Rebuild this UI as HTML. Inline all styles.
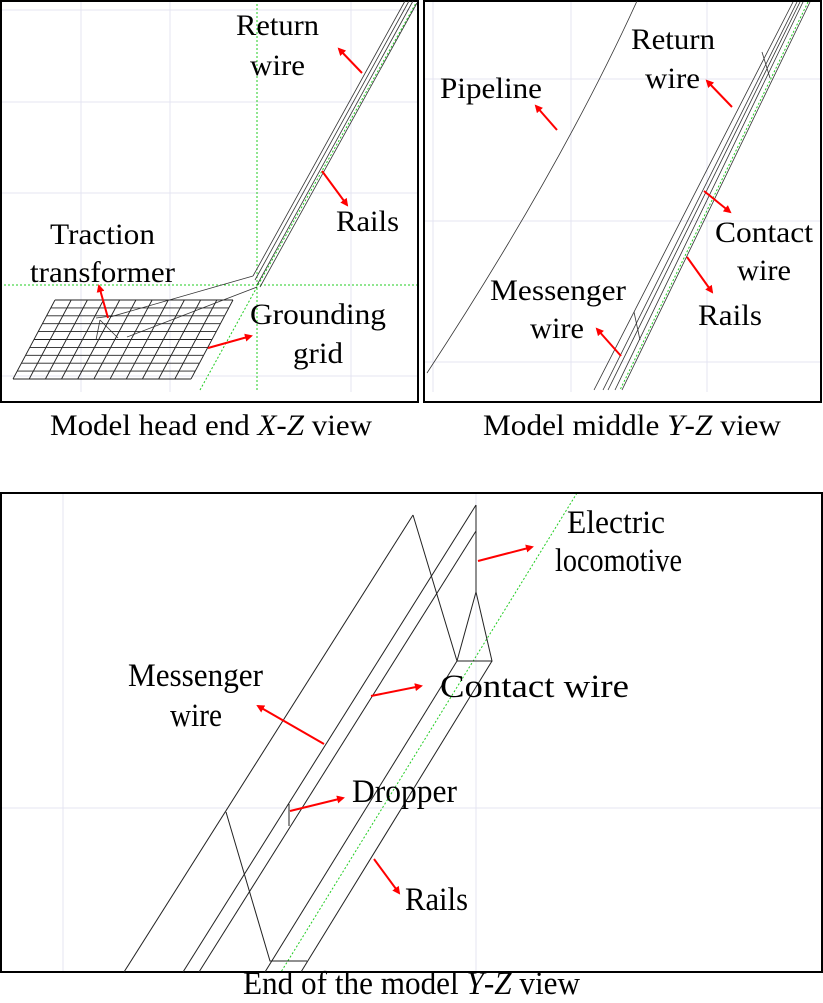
<!DOCTYPE html>
<html><head><meta charset="utf-8"><style>
html,body{margin:0;padding:0;background:#fff;}
svg{display:block;}
text{font-family:"Liberation Serif",serif;font-size:30px;fill:#000;}
text.b{font-size:33px;}
</style></head><body>
<svg width="823" height="1003" viewBox="0 0 823 1003" xmlns="http://www.w3.org/2000/svg">
<defs>
<marker id="ah" markerWidth="8" markerHeight="8" refX="6" refY="4" orient="auto" markerUnits="userSpaceOnUse">
<path d="M0,0 L8,4 L0,8 Z" fill="#f00"/>
</marker>
</defs>
<g stroke="#e4e4f2" stroke-width="1" fill="none">
<line x1="81" y1="0" x2="81" y2="392"/><line x1="170" y1="0" x2="170" y2="392"/><line x1="351" y1="0" x2="351" y2="392"/>
<line x1="0" y1="10" x2="418" y2="10"/><line x1="0" y1="102" x2="418" y2="102"/><line x1="0" y1="193" x2="418" y2="193"/><line x1="0" y1="376" x2="418" y2="376"/>
<line x1="433" y1="0" x2="433" y2="392"/><line x1="571" y1="0" x2="571" y2="392"/><line x1="707" y1="0" x2="707" y2="392"/>
<line x1="424" y1="79" x2="821" y2="79"/><line x1="424" y1="221" x2="821" y2="221"/><line x1="424" y1="362" x2="821" y2="362"/>
<line x1="63" y1="493" x2="63" y2="972"/><line x1="476" y1="493" x2="476" y2="972"/><line x1="0" y1="808" x2="822" y2="808"/>
</g>
<g stroke="#2c2" stroke-width="1" stroke-dasharray="2,2" fill="none">
<line x1="257" y1="0" x2="257" y2="392"/><line x1="0" y1="285" x2="418" y2="285"/>
<polyline points="200,390 257,287 416,3"/>
<line x1="808" y1="2" x2="620" y2="390"/>
<line x1="577" y1="493" x2="281" y2="972"/>
</g>
<g stroke="#000" stroke-width="2" fill="none">
<rect x="1" y="1" width="417" height="401"/>
<rect x="424" y="1" width="397" height="401"/>
<rect x="1" y="493" width="821" height="479"/>
</g>
<g stroke="#333" stroke-width="0.8" fill="none">
<line x1="253" y1="276" x2="405" y2="1"/><line x1="255" y1="280" x2="409" y2="1"/>
<line x1="257" y1="285" x2="413" y2="1"/><line x1="260" y1="287" x2="417" y2="3"/>
<line x1="253" y1="276" x2="110" y2="317"/><line x1="257" y1="287" x2="127" y2="337"/>
<line x1="100" y1="320" x2="96" y2="340"/><line x1="100" y1="320" x2="118" y2="338"/><line x1="96" y1="318" x2="112" y2="316"/>
</g>
<g stroke="#222" stroke-width="0.9" fill="none">
<line x1="55" y1="300" x2="233" y2="300"/><line x1="50.8" y1="307.9" x2="228.8" y2="307.9"/><line x1="46.6" y1="315.8" x2="224.6" y2="315.8"/><line x1="42.4" y1="323.7" x2="220.4" y2="323.7"/><line x1="38.2" y1="331.6" x2="216.2" y2="331.6"/><line x1="34" y1="339.5" x2="212" y2="339.5"/><line x1="29.8" y1="347.4" x2="207.8" y2="347.4"/><line x1="25.6" y1="355.3" x2="203.6" y2="355.3"/><line x1="21.4" y1="363.2" x2="199.4" y2="363.2"/><line x1="17.2" y1="371.1" x2="195.2" y2="371.1"/><line x1="13" y1="379" x2="191" y2="379"/>
<line x1="55" y1="300" x2="13" y2="379"/><line x1="71.2" y1="300" x2="29.2" y2="379"/><line x1="87.4" y1="300" x2="45.4" y2="379"/><line x1="103.5" y1="300" x2="61.5" y2="379"/><line x1="119.7" y1="300" x2="77.7" y2="379"/><line x1="135.9" y1="300" x2="93.9" y2="379"/><line x1="152.1" y1="300" x2="110.1" y2="379"/><line x1="168.3" y1="300" x2="126.3" y2="379"/><line x1="184.4" y1="300" x2="142.4" y2="379"/><line x1="200.6" y1="300" x2="158.6" y2="379"/><line x1="216.8" y1="300" x2="174.8" y2="379"/><line x1="233" y1="300" x2="191" y2="379"/>
</g>
<g stroke="#333" stroke-width="0.8" fill="none">
<path d="M637,1 Q560,170 427,373"/>
<line x1="793" y1="2" x2="594" y2="390"/><line x1="797" y1="2" x2="603" y2="390"/>
<line x1="800" y1="2" x2="608" y2="390"/>
<line x1="803" y1="2" x2="615" y2="390"/><line x1="810" y1="2" x2="622" y2="390"/>
<line x1="762" y1="52" x2="770" y2="78"/><line x1="634" y1="312" x2="640" y2="340"/>
</g>
<g stroke="#222" stroke-width="1" fill="none">
<line x1="413" y1="515" x2="124" y2="972"/>
<polyline points="413,515 457,661 492,661 476,592 457,661"/>
<line x1="476" y1="505" x2="476" y2="592"/>
<line x1="476" y1="505" x2="183" y2="972"/>
<line x1="476" y1="531" x2="199" y2="972"/>
<line x1="457" y1="661" x2="265" y2="972"/>
<line x1="492" y1="661" x2="301" y2="972"/>
<polyline points="226,812 270,961 307,961"/>
<line x1="289" y1="804" x2="289" y2="826"/>
</g>
<g stroke="#f00" stroke-width="2" fill="none" marker-end="url(#ah)">
<line x1="362" y1="73" x2="339" y2="49"/>
<line x1="322" y1="171" x2="347" y2="205"/>
<line x1="108" y1="318" x2="99" y2="286"/>
<line x1="208" y1="348" x2="251" y2="336"/>
<line x1="557" y1="130" x2="536" y2="106"/>
<line x1="732" y1="107" x2="707" y2="81"/>
<line x1="704" y1="191" x2="730" y2="212"/>
<line x1="687" y1="257" x2="712" y2="292"/>
<line x1="621" y1="356" x2="597" y2="329"/>
<line x1="478" y1="561" x2="532" y2="547"/>
<line x1="371" y1="696" x2="421" y2="686"/>
<line x1="324" y1="744" x2="258" y2="706"/>
<line x1="290" y1="811" x2="343" y2="798"/>
<line x1="374" y1="859" x2="399" y2="893"/>
</g>
<text x="236" y="35" textLength="83" lengthAdjust="spacingAndGlyphs">Return</text>
<text x="250" y="75" textLength="55" lengthAdjust="spacingAndGlyphs">wire</text>
<text x="336" y="231" textLength="63" lengthAdjust="spacingAndGlyphs">Rails</text>
<text x="50" y="244" textLength="105" lengthAdjust="spacingAndGlyphs">Traction</text>
<text x="30" y="282" textLength="145" lengthAdjust="spacingAndGlyphs">transformer</text>
<text x="250" y="324" textLength="136" lengthAdjust="spacingAndGlyphs">Grounding</text>
<text x="293" y="363" textLength="50" lengthAdjust="spacingAndGlyphs">grid</text>
<text x="50" y="435" textLength="322" lengthAdjust="spacingAndGlyphs">Model head end <tspan font-style="italic">X</tspan>-<tspan font-style="italic">Z</tspan> view</text>
<text x="440" y="98" textLength="102" lengthAdjust="spacingAndGlyphs">Pipeline</text>
<text x="631" y="49" textLength="84" lengthAdjust="spacingAndGlyphs">Return</text>
<text x="645" y="88" textLength="55" lengthAdjust="spacingAndGlyphs">wire</text>
<text x="715" y="242" textLength="98" lengthAdjust="spacingAndGlyphs">Contact</text>
<text x="737" y="280" textLength="54" lengthAdjust="spacingAndGlyphs">wire</text>
<text x="698" y="325" textLength="64" lengthAdjust="spacingAndGlyphs">Rails</text>
<text x="490" y="300" textLength="136" lengthAdjust="spacingAndGlyphs">Messenger</text>
<text x="530" y="338" textLength="54" lengthAdjust="spacingAndGlyphs">wire</text>
<text x="483" y="435" textLength="298" lengthAdjust="spacingAndGlyphs">Model middle <tspan font-style="italic">Y</tspan>-<tspan font-style="italic">Z</tspan> view</text>
<text class="b" x="567" y="533" textLength="98" lengthAdjust="spacingAndGlyphs">Electric</text>
<text class="b" x="555" y="571" textLength="127" lengthAdjust="spacingAndGlyphs">locomotive</text>
<text class="b" x="128" y="686" textLength="135" lengthAdjust="spacingAndGlyphs">Messenger</text>
<text class="b" x="170" y="726" textLength="52" lengthAdjust="spacingAndGlyphs">wire</text>
<text class="b" x="440" y="697" textLength="189" lengthAdjust="spacingAndGlyphs">Contact wire</text>
<text class="b" x="352" y="802" textLength="105" lengthAdjust="spacingAndGlyphs">Dropper</text>
<text class="b" x="405" y="910" textLength="63" lengthAdjust="spacingAndGlyphs">Rails</text>
<text class="b" x="243" y="994" textLength="337" lengthAdjust="spacingAndGlyphs">End of the model <tspan font-style="italic">Y</tspan>-<tspan font-style="italic">Z</tspan> view</text>
</svg>
</body></html>
